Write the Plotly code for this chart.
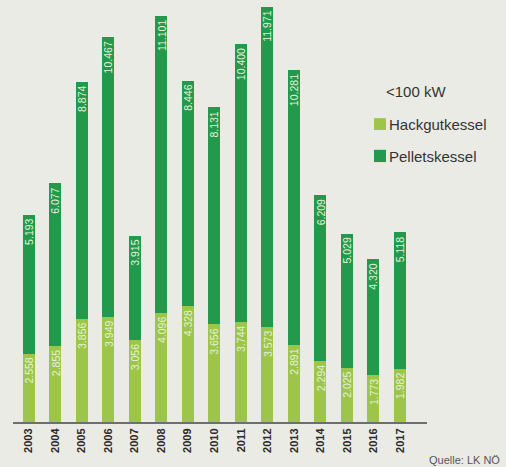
import plotly.graph_objects as go

years = ["2003", "2004", "2005", "2006", "2007", "2008", "2009", "2010",
         "2011", "2012", "2013", "2014", "2015", "2016", "2017"]
hackgut = [2558, 2855, 3856, 3949, 3056, 4096, 4328, 3656,
           3744, 3573, 2891, 2294, 2025, 1773, 1982]
pellets = [5193, 6077, 8874, 10467, 3915, 11101, 8446, 8131,
           10400, 11971, 10281, 6209, 5029, 4320, 5118]

C_LIGHT = "#9cc54a"
C_DARK = "#22994b"
BG = "#ebebe6"
FONT = "Liberation Sans, Arial, Helvetica, sans-serif"


def fmt(v):
    return f"{v:,}".replace(",", ".")


fig = go.Figure()
fig.add_trace(go.Bar(x=years, y=hackgut, name="Hackgutkessel",
                     marker=dict(color=C_LIGHT, line=dict(width=0))))
fig.add_trace(go.Bar(x=years, y=pellets, name="Pelletskessel",
                     marker=dict(color=C_DARK, line=dict(width=0))))

annotations = []
for i, (h, p) in enumerate(zip(hackgut, pellets)):
    for top, val in ((h, h), (h + p, p)):
        annotations.append(dict(
            x=i, y=top, xref="x", yref="y", text=fmt(val), showarrow=False,
            textangle=-90, xanchor="center", yanchor="top", yshift=-2,
            font=dict(family=FONT, size=10.5, color="#e6f2da")))

# legend (manual)
annotations.append(dict(x=0.897, y=0.784, xref="paper", yref="paper",
                        text="&lt;100 kW", showarrow=False, xanchor="left",
                        yanchor="middle",
                        font=dict(family=FONT, size=15, color="#333333")))
annotations.append(dict(x=0.903, y=0.706, xref="paper", yref="paper",
                        text="Hackgutkessel", showarrow=False, xanchor="left",
                        yanchor="middle",
                        font=dict(family=FONT, size=15, color="#333333")))
annotations.append(dict(x=0.903, y=0.630, xref="paper", yref="paper",
                        text="Pelletskessel", showarrow=False, xanchor="left",
                        yanchor="middle",
                        font=dict(family=FONT, size=15, color="#333333")))
annotations.append(dict(x=1.181, y=-0.090, xref="paper", yref="paper",
                        text="Quelle: LK NÖ", showarrow=False, xanchor="right",
                        yanchor="middle",
                        font=dict(family=FONT, size=11, color="#555555")))

shapes = [
    dict(type="rect", xref="paper", yref="paper", x0=0.872, x1=0.901,
         y0=0.692, y1=0.720, fillcolor=C_LIGHT, line=dict(width=0)),
    dict(type="rect", xref="paper", yref="paper", x0=0.872, x1=0.901,
         y0=0.616, y1=0.645, fillcolor=C_DARK, line=dict(width=0)),
]

fig.update_layout(
    barmode="stack",
    bargap=0.547,
    width=506, height=467,
    margin=dict(l=13, r=79, t=0, b=45, pad=0),
    paper_bgcolor=BG, plot_bgcolor=BG,
    showlegend=False,
    annotations=annotations,
    shapes=shapes,
    xaxis=dict(type="category", range=[-0.6, 15.02], showgrid=False,
               zeroline=False, showline=True, linecolor="#6e6e6e",
               linewidth=2, ticks="", tickangle=-90,
               tickfont=dict(family=FONT, size=11, color="#2a2a2a",
                             weight="bold")),
    yaxis=dict(range=[0, 15800], visible=False, showgrid=False,
               zeroline=False),
)

fig.write_html(
    "out.html",
    config={"displayModeBar": False},
    post_script="document.body.style.margin='0';"
                "document.body.style.overflow='hidden';"
                "document.documentElement.style.overflow='hidden';",
)
